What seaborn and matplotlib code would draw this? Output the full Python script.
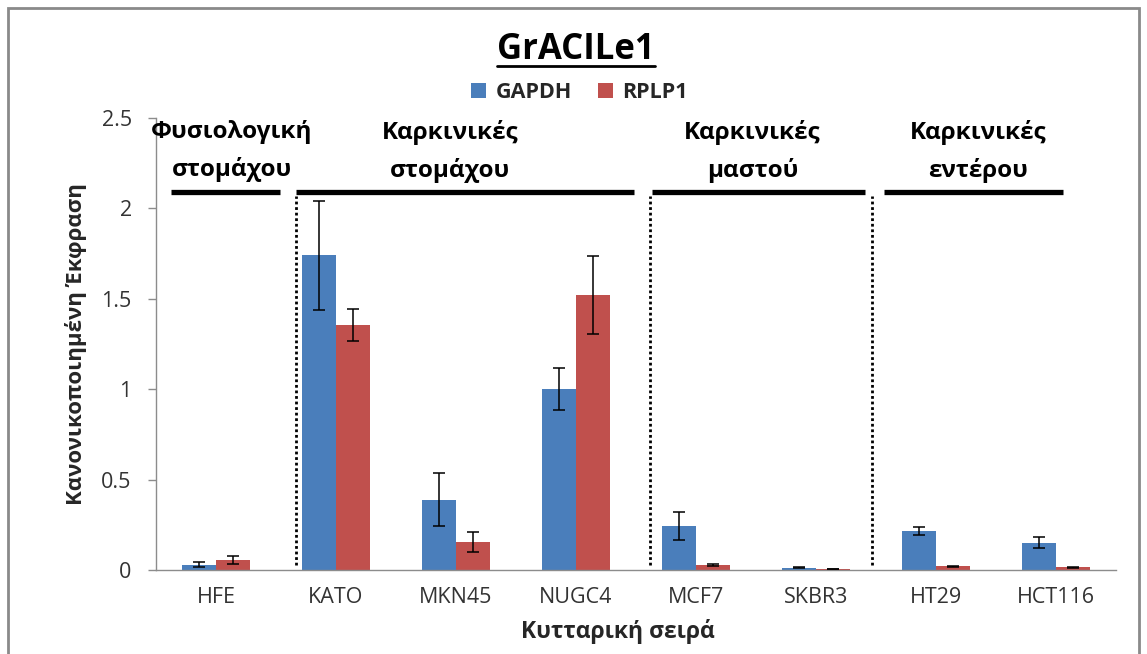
import matplotlib
matplotlib.use("Agg")
import matplotlib.pyplot as plt
from matplotlib.lines import Line2D
from matplotlib.patches import Rectangle, Patch
import numpy as np
import pandas as pd
import seaborn as sns

# Data: normalised expression of GrACILe1 per cell line
cell_lines = ["HFE", "KATO", "MKN45", "NUGC4", "MCF7", "SKBR3", "HT29", "HCT116"]
genes = ["GAPDH", "RPLP1"]
gapdh = [0.03, 1.74, 0.39, 1.00, 0.245, 0.012, 0.217, 0.15]
gapdh_err = [0.012, 0.30, 0.145, 0.115, 0.078, 0.003, 0.022, 0.03]
rplp1 = [0.055, 1.355, 0.155, 1.52, 0.028, 0.005, 0.02, 0.015]
rplp1_err = [0.02, 0.09, 0.058, 0.215, 0.006, 0.002, 0.004, 0.004]

group_labels = ["Φυσιολογική\nστομάχου", "Καρκινικές\nστομάχου",
                "Καρκινικές\nμαστού", "Καρκινικές\nεντέρου"]
group_spans = [(-0.375, 0.533), (0.667, 3.483), (3.633, 5.408), (5.567, 7.058)]
group_text_x = [0.133, 1.95, 4.47, 6.35]
separators = [0.667, 3.617, 5.467]

colors = {"GAPDH": "#4A7EBB", "RPLP1": "#C0504D"}

sns.set_theme(style="white")
plt.rcParams["font.family"] = ["Open Sans", "DejaVu Sans"]

df = pd.DataFrame({
    "line": cell_lines * 2,
    "gene": ["GAPDH"] * len(cell_lines) + ["RPLP1"] * len(cell_lines),
    "value": gapdh + rplp1,
})

fig = plt.figure(figsize=(11.47, 6.54), dpi=100)
ax = fig.add_axes([0.136, 0.1284, 0.837, 0.6912])

sns.barplot(data=df, x="line", y="value", hue="gene", order=cell_lines,
            hue_order=genes, palette=colors, width=0.57, gap=0,
            errorbar=None, ax=ax, legend=False, saturation=1,
            edgecolor="none")

# error bars at the bar centres
for cont, errs, vals in zip(ax.containers, [gapdh_err, rplp1_err], [gapdh, rplp1]):
    xs = [p.get_x() + p.get_width() / 2 for p in cont.patches]
    ax.errorbar(xs, vals, yerr=errs, fmt="none", ecolor="black",
                elinewidth=1.1, capsize=4.5, capthick=1.1, zorder=5)

tick_color = "#333333"
ax.set_xlim(-0.5, 7.5)
ax.set_ylim(0, 2.5)
ax.set_yticks(np.arange(0, 2.51, 0.5))
ax.set_yticklabels(["0", "0.5", "1", "1.5", "2", "2.5"], fontsize=15.5, color=tick_color)
ax.set_xticks(range(len(cell_lines)))
ax.set_xticklabels(cell_lines, fontsize=15.5, color=tick_color)
ax.set_xticks(np.arange(-0.5, 7.6, 1), minor=True)
ax.tick_params(axis="x", which="major", length=0, pad=12)
ax.tick_params(axis="x", which="minor", length=7, width=1, color="#8c8c8c", direction="out")
ax.tick_params(axis="y", which="major", left=True, length=5.5, width=1, color="#8c8c8c",
               direction="out", pad=12)
for side in ["top", "right"]:
    ax.spines[side].set_visible(False)
for side in ["left", "bottom"]:
    ax.spines[side].set_color("#8c8c8c")
    ax.spines[side].set_linewidth(1)

ax.set_ylabel("Κανονικοποιημένη Έκφραση", fontsize=16, fontweight="bold", labelpad=10)
ax.set_xlabel("Κυτταρική σειρά", fontsize=16.5, fontweight="bold")
ax.xaxis.label.set_va("center")
ax.xaxis.set_label_coords(0.481, -0.137)

# group brackets, labels and dotted separators
for (x0, x1), label, tx in zip(group_spans, group_labels, group_text_x):
    ax.plot([x0, x1], [2.09, 2.09], color="black", lw=3.8, solid_capstyle="butt",
            clip_on=False, zorder=6)
    ax.text(tx, 2.317, label, ha="center", va="center", fontsize=17.5,
            fontweight="bold", linespacing=1.68, color="black")
for sx in separators:
    ax.plot([sx, sx], [0.03, 2.07], color="black", lw=2, ls=(0, (1, 1)), zorder=6)

# title with underline
title = fig.text(0.502, 0.924, "GrACILe1", ha="center", va="center",
                 fontsize=25, fontweight="bold", color="black")
fig.canvas.draw()
bb = title.get_window_extent().transformed(fig.transFigure.inverted())
fig.add_artist(Line2D([bb.x0, bb.x1], [bb.y0 + 0.003, bb.y0 + 0.003],
                      transform=fig.transFigure, color="black", lw=2))

handles = [Patch(facecolor=colors[g], edgecolor="none") for g in genes]
fig.legend(handles, genes, loc="center", bbox_to_anchor=(0.505, 0.858), ncol=2,
           frameon=False, prop={"weight": "bold", "size": 15.5},
           handlelength=0.7, handleheight=0.7, handletextpad=0.45, columnspacing=1.2)

# outer frame
fig.add_artist(Rectangle((0.007, -0.01), 0.986, 0.998, transform=fig.transFigure,
                         fill=False, edgecolor="#8a8a8a", lw=2))

fig.savefig("out.png", dpi=100, facecolor="white")
